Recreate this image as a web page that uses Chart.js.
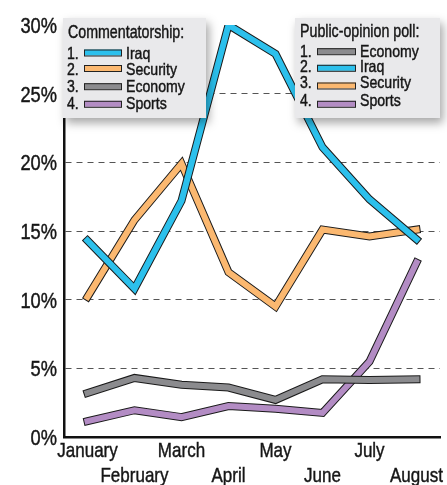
<!DOCTYPE html>
<html>
<head>
<meta charset="utf-8">
<script src="https://cdn.jsdelivr.net/npm/chart.js@4.4.1/dist/chart.umd.min.js"></script>
<style>
  html, body { margin: 0; padding: 0; background: #fff; }
  canvas { display: block; }
</style>
</head>
<body>
<canvas id="c" width="447" height="485"></canvas>
<script>
const months = ["January", "February", "March", "April", "May", "June", "July", "August"];
const iraq     = [14.3, 10.8, 17.2, 30.0, 27.9, 21.1, 17.3, 14.4];
const security = [10.2, 15.8, 19.9, 12.0, 9.5, 15.1, 14.6, 15.1];
const economy  = [3.2, 4.3, 3.8, 3.6, 2.7, 4.2, 4.15, 4.2];
const sports   = [1.15, 1.95, 1.45, 2.25, 2.05, 1.75, 5.5, 12.7];
const yTicks   = [0, 5, 10, 15, 20, 25, 30];

const commentTitle  = "Commentatorship:";
const commentLegend = ["Iraq", "Security", "Economy", "Sports"];
const pollTitle     = "Public-opinion poll:";
const pollLegend    = ["Economy", "Iraq", "Security", "Sports"];

const colors = {
  Iraq: "#2cc0ec",
  Security: "#fbb870",
  Economy: "#8b8b8e",
  Sports: "#b38cc4"
};
const outline = "#1a1a1a";
const FONT = '"Liberation Sans", Arial, sans-serif';
const TEXT = '#161616';

// legend box layouts (pixels)
const legendBoxes = [
  { title: commentTitle, items: commentLegend, box: [63, 18, 143, 100], titleX: 68, titleY: 38.3,
    numX: 67, swX: 84, swW: 38, labX: 126, swY: [52.5, 68, 86.2, 103.8], baseY: [59, 74.5, 92.4, 109] },
  { title: pollTitle, items: pollLegend, box: [295, 18, 145, 100], titleX: 300, titleY: 36.7,
    numX: 300, swX: 317, swW: 39, labX: 360, swY: [51.2, 67.8, 85.5, 103.8], baseY: [56.7, 71.9, 87.9, 105.7] }
];

function condText(ctx, txt, x, y, align, size, k) {
  ctx.save();
  ctx.font = size + 'px ' + FONT;
  ctx.textAlign = align;
  ctx.textBaseline = 'alphabetic';
  ctx.fillStyle = TEXT;
  ctx.strokeStyle = TEXT;
  ctx.lineWidth = 0.45;
  ctx.translate(x, y);
  ctx.scale(k, 1);
  ctx.fillText(txt, 0, 0);
  ctx.strokeText(txt, 0, 0);
  ctx.restore();
}

const textPlugin = {
  id: 'condensedText',
  afterDraw(chart) {
    const ctx = chart.ctx;
    const xs = chart.scales.x, ys = chart.scales.y;
    ctx.save();
    ys.ticks.forEach(t => {
      condText(ctx, t.value + '%', xs.left - 7, ys.getPixelForValue(t.value) + 8, 'right', 22, 0.83);
    });
    xs.ticks.forEach((t, i) => {
      const y = xs.top + (i % 2 === 0 ? 20 : 44.5);
      condText(ctx, months[i], xs.getPixelForTick(i), y, 'center', 21, 0.81);
    });
    // legends
    legendBoxes.forEach(L => {
      const [bx, by, bw, bh] = L.box;
      ctx.save();
      ctx.shadowColor = 'rgba(0,0,0,0.35)';
      ctx.shadowBlur = 9;
      ctx.shadowOffsetX = 3;
      ctx.shadowOffsetY = 5;
      ctx.fillStyle = '#e9e9eb';
      ctx.fillRect(bx, by, bw, bh);
      ctx.restore();
      condText(ctx, L.title, L.titleX, L.titleY, 'left', 18, 0.79);
      L.items.forEach((name, i) => {
        condText(ctx, (i + 1) + '.', L.numX, L.baseY[i], 'left', 17, 0.83);
        ctx.fillStyle = colors[name];
        ctx.fillRect(L.swX, L.swY[i] - 3, L.swW, 6);
        ctx.lineWidth = 1;
        ctx.strokeStyle = '#222';
        ctx.strokeRect(L.swX + 0.5, L.swY[i] - 3 + 0.5, L.swW - 1, 6);
        condText(ctx, name, L.labX, L.baseY[i], 'left', 17, 0.83);
      });
    });
    ctx.restore();
  }
};

const seriesOrder = [
  ["Iraq", iraq],
  ["Security", security],
  ["Economy", economy],
  ["Sports", sports]
];
const datasets = [];
seriesOrder.forEach(([name, data]) => {
  datasets.push({
    label: name, data: data, borderColor: colors[name], borderWidth: 6,
    pointRadius: 0, tension: 0, borderJoinStyle: 'miter', borderCapStyle: 'square', fill: false
  });
  datasets.push({
    label: name + ' outline', data: data, borderColor: outline, borderWidth: 8,
    pointRadius: 0, tension: 0, borderJoinStyle: 'miter', borderCapStyle: 'square', fill: false
  });
});

new Chart(document.getElementById('c'), {
  type: 'line',
  data: { labels: months, datasets: datasets },
  options: {
    responsive: false,
    animation: false,
    events: [],
    layout: { padding: { top: 25, right: 7, left: 0, bottom: 0 } },
    plugins: { legend: { display: false }, tooltip: { enabled: false } },
    scales: {
      x: {
        offset: true,
        grid: { display: false, drawTicks: false, tickLength: 0 },
        border: { display: true, color: '#111', width: 2.5 },
        ticks: { display: false, autoSkip: false },
        afterFit: s => { s.height = 48; }
      },
      y: {
        min: 0, max: 30,
        afterBuildTicks: s => { s.ticks = yTicks.map(v => ({ value: v })); },
        grid: {
          drawTicks: false, tickLength: 0, lineWidth: 1,
          color: ctx => (ctx.tick && (ctx.tick.value === 0 || ctx.tick.value === 30)) ? 'rgba(0,0,0,0)' : '#555'
        },
        border: { display: true, color: '#111', width: 2.5, dash: [6, 5] },
        ticks: { display: false },
        afterFit: s => { s.width = 64; }
      }
    }
  },
  plugins: [textPlugin]
});
</script>
</body>
</html>
